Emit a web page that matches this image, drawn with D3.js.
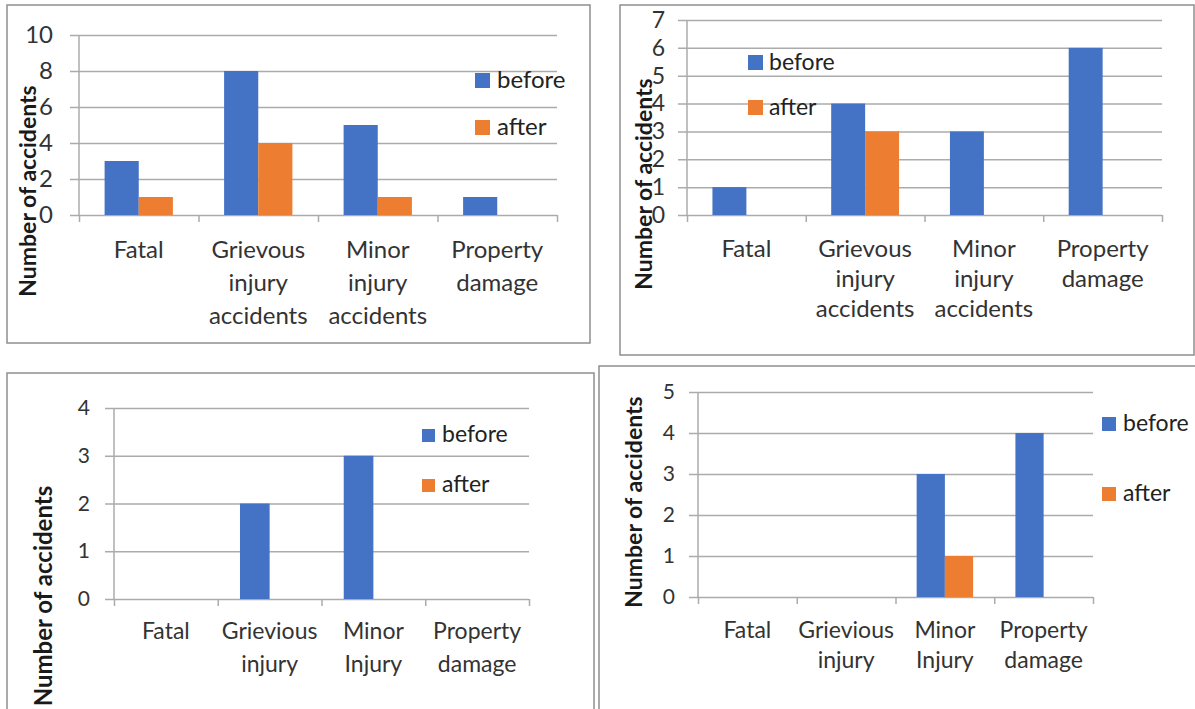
<!DOCTYPE html>
<html>
<head>
<meta charset="utf-8">
<script src="https://cdn.jsdelivr.net/npm/d3@7"></script>
<style>
  html, body { margin: 0; padding: 0; background: #fff; }
  svg { display: block; font-family: Lato, "Open Sans", sans-serif; }
</style>
</head>
<body>
<svg id="chart" width="1195" height="709"></svg>
<script>
// ---- data ----
const seriesNames = ["before", "after"];
const categoriesTop = ["Fatal", "Grievous injury accidents", "Minor injury accidents", "Property damage"];
const categoriesBottom = ["Fatal", "Grievious injury", "Minor Injury", "Property damage"];

const before1 = [3, 8, 5, 1];
const after1  = [1, 4, 1, 0];
const before2 = [1, 4, 3, 6];
const after2  = [0, 3, 0, 0];
const before3 = [0, 2, 3, 0];
const after3  = [0, 0, 0, 0];
const before4 = [0, 0, 3, 4];
const after4  = [0, 0, 1, 0];

const yTicks1 = [0, 2, 4, 6, 8, 10];
const yTicks2 = [0, 1, 2, 3, 4, 5, 6, 7];
const yTicks3 = [0, 1, 2, 3, 4];
const yTicks4 = [0, 1, 2, 3, 4, 5];

const yTitle = "Number of accidents";

// ---- styles ----
const colors = { before: "#4472C4", after: "#ED7D31" };
const gridColor = "#ababab";
const textColor = "#333333";

// ---- layout of the four panels ----
const layouts = [
  { box: [7, 5, 583, 338], plot: { left: 79, right: 557, top: 35, bottom: 215 },
    tickFont: 24, tickPad: 17, labelFont: 24, labelOffset: 43, lineGap: 33,
    legend: { x: 475, y: [73, 120], size: 15, textX: 497, font: 24 },
    title: { x: 27, y: 191, font: 23 } },
  { box: [620, 5, 574, 350], plot: { left: 687, right: 1162, top: 20, bottom: 215 },
    tickFont: 23, tickPad: 13, labelFont: 24, labelOffset: 42, lineGap: 30,
    legend: { x: 748, y: [55, 100], size: 15, textX: 769, font: 23 },
    title: { x: 643, y: 184, font: 23 } },
  { box: [7, 373, 587, 345], plot: { left: 114, right: 529, top: 408, bottom: 599 },
    tickFont: 21, tickPad: 15, labelFont: 23, labelOffset: 40, lineGap: 33,
    legend: { x: 422, y: [429, 479], size: 13, textX: 442, font: 23 },
    title: { x: 42, y: 596, font: 24 } },
  { box: [599, 366, 600, 350], plot: { left: 698, right: 1093, top: 392, bottom: 597 },
    tickFont: 21, tickPad: 14, labelFont: 23, labelOffset: 41, lineGap: 30,
    legend: { x: 1102, y: [417, 487], size: 14, textX: 1123, font: 23 },
    title: { x: 633, y: 502, font: 23 } }
];

const panelData = [
  { categories: categoriesTop,    before: before1, after: after1, ticks: yTicks1 },
  { categories: categoriesTop,    before: before2, after: after2, ticks: yTicks2 },
  { categories: categoriesBottom, before: before3, after: after3, ticks: yTicks3 },
  { categories: categoriesBottom, before: before4, after: after4, ticks: yTicks4 }
];

const svg = d3.select("#chart");

function drawPanel(data, L) {
  const g = svg.append("g");
  const P = L.plot;

  // outer frame
  g.append("rect")
    .attr("x", L.box[0]).attr("y", L.box[1])
    .attr("width", L.box[2]).attr("height", L.box[3])
    .attr("fill", "#fff").attr("stroke", "#8f8f8f").attr("stroke-width", 1.5);

  const y = d3.scaleLinear()
    .domain([0, d3.max(data.ticks)])
    .range([P.bottom, P.top]);

  // value axis with gridlines reaching across the plot
  const yAxis = g.append("g")
    .attr("transform", `translate(${P.left - 9},0)`)
    .call(d3.axisLeft(y)
      .tickValues(data.ticks)
      .tickFormat(d3.format("d"))
      .tickSize(-(P.right - P.left + 9))
      .tickPadding(L.tickPad));
  yAxis.select(".domain").remove();
  yAxis.selectAll("line").attr("stroke", gridColor).attr("stroke-width", 1.5);
  yAxis.selectAll("text")
    .attr("font-size", L.tickFont)
    .attr("fill", textColor)
    .attr("font-family", "Lato, sans-serif");

  // vertical axis line
  g.append("line")
    .attr("x1", P.left).attr("x2", P.left)
    .attr("y1", P.top).attr("y2", P.bottom)
    .attr("stroke", gridColor).attr("stroke-width", 1.5);

  // category boundary tick marks
  const n = data.categories.length;
  const bounds = d3.scaleLinear().domain([0, n]).range([P.left, P.right]);
  const bAxis = g.append("g")
    .attr("transform", `translate(0,${P.bottom})`)
    .call(d3.axisBottom(bounds)
      .tickValues(d3.range(n + 1))
      .tickSize(7)
      .tickFormat(""));
  bAxis.select(".domain").remove();
  bAxis.selectAll("line").attr("stroke", gridColor).attr("stroke-width", 1.5);

  // clustered bars
  const x0 = d3.scaleBand().domain(data.categories).range([P.left, P.right]).padding(0);
  const x1 = d3.scaleBand().domain(seriesNames).range([0, x0.bandwidth()])
    .paddingInner(0).paddingOuter(0.75);

  const rows = data.categories.map((c, i) => ({
    category: c,
    values: seriesNames.map(s => ({ series: s, value: data[s][i] }))
  }));

  g.append("g").selectAll("g")
    .data(rows)
    .join("g")
      .attr("transform", d => `translate(${x0(d.category)},0)`)
    .selectAll("rect")
    .data(d => d.values)
    .join("rect")
      .attr("x", d => x1(d.series))
      .attr("width", x1.bandwidth())
      .attr("y", d => y(d.value))
      .attr("height", d => y(0) - y(d.value))
      .attr("fill", d => colors[d.series]);

  // category labels, one word per line
  const xAxis = g.append("g")
    .attr("transform", `translate(0,${P.bottom})`)
    .call(d3.axisBottom(x0).tickSize(0).tickPadding(0));
  xAxis.select(".domain").remove();
  xAxis.selectAll("text")
    .attr("font-size", L.labelFont)
    .attr("font-family", "Lato, sans-serif")
    .attr("fill", textColor)
    .attr("dy", null)
    .attr("y", L.labelOffset)
    .each(function(d) {
      const t = d3.select(this);
      t.text(null);
      d.split(" ").forEach((w, i) => {
        t.append("tspan")
          .attr("x", 0)
          .attr("y", L.labelOffset + i * L.lineGap)
          .text(w);
      });
    });

  // legend
  const lg = g.append("g");
  seriesNames.forEach((s, i) => {
    lg.append("rect")
      .attr("x", L.legend.x).attr("y", L.legend.y[i])
      .attr("width", L.legend.size).attr("height", L.legend.size)
      .attr("fill", colors[s]);
    lg.append("text")
      .attr("x", L.legend.textX)
      .attr("y", L.legend.y[i] + L.legend.size)
      .attr("font-size", L.legend.font)
      .attr("fill", "#222222")
      .text(s);
  });

  // axis title
  g.append("text")
    .attr("transform", `translate(${L.title.x},${L.title.y}) rotate(-90)`)
    .attr("text-anchor", "middle")
    .attr("dominant-baseline", "central")
    .attr("font-size", L.title.font)
    .attr("font-weight", "bold")
    .attr("fill", "#1a1a1a")
    .text(yTitle);
}

panelData.forEach((d, i) => drawPanel(d, layouts[i]));
</script>
</body>
</html>
